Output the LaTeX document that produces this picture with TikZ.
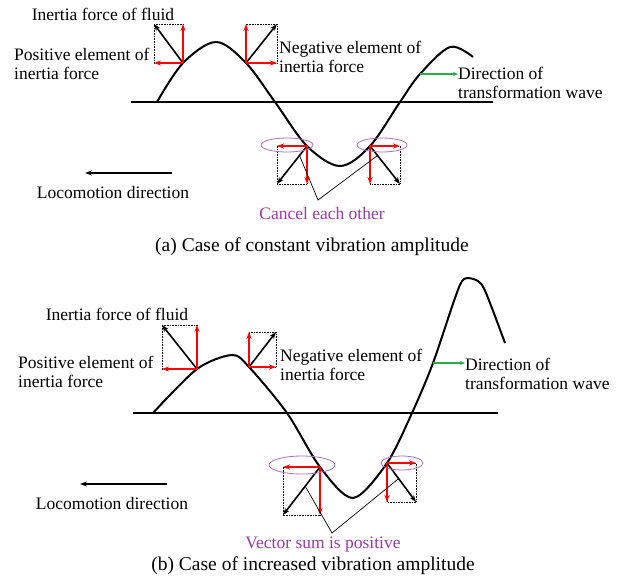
\documentclass[tikz,border=0pt]{standalone}
\usepackage{fontspec}
\setmainfont{Liberation Serif}
\usetikzlibrary{arrows.meta,calc}
\definecolor{ringpurple}{RGB}{175,110,195}
\definecolor{notepurple}{RGB}{150,60,165}
\definecolor{wavegreen}{RGB}{40,175,75}

\begin{document}
\begin{tikzpicture}[
  x=1pt, y=-1pt,
  wave/.style={line width=2pt},
  fluid/.style={line width=1.6pt,-{Stealth[length=7pt,width=5pt]}},
  part/.style={red,line width=1.6pt,-{Stealth[length=7pt,width=5pt]}},
  frame/.style={densely dotted,line width=0.6pt},
  ring/.style={ringpurple,line width=0.8pt},
  txt/.style={font=\fontsize{17.5}{19}\selectfont,align=left,inner sep=0pt},
  note/.style={txt,text=notepurple},
  caption/.style={txt,font=\fontsize{19.5}{22}\selectfont}
]%
  \useasboundingbox (0,0) rectangle (626,587);

  % Force points and fluid force tips
  \coordinate (a1) at (183,63);  \coordinate (a1f) at (154,24);
  \coordinate (a2) at (246,63);  \coordinate (a2f) at (277,24);
  \coordinate (a3) at (307,146); \coordinate (a3f) at (277,184);
  \coordinate (a4) at (370,146); \coordinate (a4f) at (400,184);
  \coordinate (b1) at (197,369); \coordinate (b1f) at (162,325);
  \coordinate (b2) at (249,367); \coordinate (b2f) at (276,332);
  \coordinate (b3) at (320,467); \coordinate (b3f) at (283,515);
  \coordinate (b4) at (387,463); \coordinate (b4f) at (416,502);

  % Dotted frames
  \foreach \p in {a1,a2,a3,a4,b1,b2,b3,b4}
    \draw[frame] (\p) rectangle (\p f);

  % (a) Body wave
  \draw[wave] (131,102) -- (493,102);
  \draw[wave] plot[smooth,tension=0.55] coordinates {
    (157,102) (183,63) (216,42) (246,63) (275,102) (307,146)
    (340,166) (370,146) (400,102) (420,74) (450,47) (473,57)};

  % (b) Body wave
  \draw[wave] (133,413) -- (498,413);
  \draw[wave] plot[smooth,tension=0.5] coordinates {
    (153,413) (197,369) (232,355) (249,367) (287,413) (320,467)
    (353,498) (387,463) (412,413) (433,363) (455,298) (464,279)
    (478,281) (486,293) (505,343)};

  % Force vectors
  \foreach \p in {a1,a2,a3,a4,b1,b2,b3,b4} {
    \draw[fluid] (\p) -- (\p f);
    \draw[part] (\p) -- (\p |- \p f);
    \draw[part] (\p) -- (\p f |- \p);
  }

  % Rings
  \draw[ring] (287,145) ellipse [x radius=26pt, y radius=7pt];
  \draw[ring] (382,145) ellipse [x radius=25pt, y radius=7pt];
  \draw[ring] (302,465) ellipse [x radius=33pt, y radius=9pt];
  \draw[ring] (402,463) ellipse [x radius=21pt, y radius=7pt];

  % Labels (a)
  \node[txt] (fluida) at (103,14) {Inertia force of fluid};
  \node[txt,anchor=west] (posa) at (14,64) {Positive element of\\inertia force};
  \node[txt,anchor=west] (nega) at (279,57) {Negative element of\\inertia force};
  \node[txt,anchor=west] (dira) at (458,83) {Direction of\\transformation wave};
  \node[note] (cancel) at (322,214) {Cancel each other};
  \node[txt] (loca) at (113,193) {Locomotion direction};
  \node[caption] (capa) at (312,247) {(a) Case of constant vibration amplitude};

  % Labels (b)
  \node[txt] (fluidb) at (117,314) {Inertia force of fluid};
  \node[txt,anchor=west] (posb) at (18,372) {Positive element of\\inertia force};
  \node[txt,anchor=west] (negb) at (280,365) {Negative element of\\inertia force};
  \node[txt,anchor=west] (dirb) at (465,374) {Direction of\\transformation wave};
  \node[note] (sumb) at (323,545) {Vector sum is positive};
  \node[txt] (locb) at (112,504) {Locomotion direction};
  \node[caption] (capb) at (313,566) {(b) Case of increased vibration amplitude};

  % Callouts
  \coordinate (cva) at (318,200);
  \coordinate (cvb) at (332,533);
  \draw[line width=0.7pt] ($(a3)!0.25!(a3f)$) -- (cva) -- ($(a4)!0.25!(a4f)$);
  \draw[line width=0.7pt] ($(b3)!0.4!(b3f)$) -- (cvb) -- ($(b4)!0.4!(b4f)$);

  % Wave direction
  \coordinate (ga) at (420,74);
  \coordinate (gb) at (433,363);
  \draw[wavegreen,line width=1.6pt,-{Stealth[length=5pt,width=4pt]}] (ga) -- (ga -| dira.west);
  \draw[wavegreen,line width=1.6pt,-{Stealth[length=5pt,width=4pt]}] (gb) -- (gb -| dirb.west);

  % Locomotion direction
  \coordinate (la) at (172,173);
  \coordinate (lb) at (167,484);
  \draw[fluid] (la) -- ++(-87,0) coordinate (la0);
  \draw[fluid] (lb) -- ++(-87,0) coordinate (lb0);

\end{tikzpicture}
\end{document}
